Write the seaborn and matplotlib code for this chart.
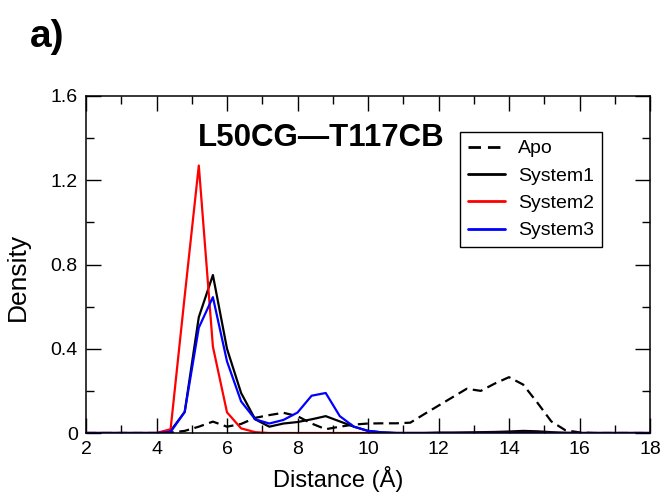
import numpy as np
import pandas as pd
import seaborn as sns
import matplotlib.pyplot as plt
from matplotlib import ticker

sns.set_theme(style="ticks")
plt.rcParams['font.family'] = ['Liberation Sans', 'DejaVu Sans']
plt.rcParams['text.color'] = 'black'
plt.rcParams['axes.labelcolor'] = 'black'
plt.rcParams['xtick.color'] = 'black'
plt.rcParams['ytick.color'] = 'black'

# distance bins (A)
distance = [2.0, 2.4, 2.8, 3.2, 3.6, 4.0, 4.4, 4.8, 5.2, 5.6, 6.0, 6.4, 6.8, 7.2, 7.6, 8.0,
            8.4, 8.8, 9.2, 9.6, 10.0, 10.4, 10.8, 11.2, 11.6, 12.0, 12.4, 12.8, 13.2, 13.6,
            14.0, 14.4, 14.8, 15.2, 15.6, 16.0, 16.4, 16.8, 17.2, 17.6, 18.0]

apo = [0, 0, 0, 0, 0, 0, 0.002, 0.01, 0.03, 0.054, 0.03, 0.043, 0.072, 0.085, 0.096, 0.08,
       0.045, 0.018, 0.03, 0.04, 0.045, 0.046, 0.046, 0.049, 0.09, 0.13, 0.17, 0.21, 0.20, 0.235,
       0.265, 0.23, 0.145, 0.055, 0.013, 0.003, 0, 0, 0, 0, 0]
system1 = [0, 0, 0, 0, 0, 0, 0.01, 0.10, 0.55, 0.75, 0.40, 0.19, 0.065, 0.03, 0.045, 0.052,
           0.065, 0.08, 0.055, 0.03, 0.01, 0.003, 0, 0, 0, 0.002, 0.002, 0.003, 0.004, 0.005,
           0.007, 0.01, 0.008, 0.004, 0.001, 0, 0, 0, 0, 0, 0]
system2 = [0, 0, 0, 0, 0, 0, 0.018, 0.65, 1.27, 0.41, 0.098, 0.022, 0.004, 0, 0, 0,
           0, 0, 0, 0, 0, 0, 0, 0, 0, 0, 0, 0, 0, 0,
           0, 0, 0, 0, 0, 0, 0, 0, 0, 0, 0]
system3 = [0, 0, 0, 0, 0, 0, 0.005, 0.10, 0.50, 0.645, 0.34, 0.15, 0.065, 0.045, 0.062, 0.097,
           0.177, 0.19, 0.08, 0.03, 0.01, 0.003, 0, 0, 0, 0, 0, 0, 0, 0,
           0, 0, 0, 0, 0, 0, 0, 0, 0, 0, 0]

series = {"Apo": apo, "System1": system1, "System2": system2, "System3": system3}
colors = {"Apo": "black", "System1": "black", "System2": "#ff0000", "System3": "#0000ff"}
dashes = {"Apo": (4.5, 2.5), "System1": "", "System2": "", "System3": ""}

df = pd.concat([pd.DataFrame({"Distance": distance, "Density": v, "system": k})
                for k, v in series.items()], ignore_index=True)

fig = plt.figure(figsize=(6.63, 4.96), dpi=100)
ax = fig.add_axes([86 / 663, 1 - 433 / 496, 564 / 663, 337 / 496])

sns.lineplot(data=df, x="Distance", y="Density", hue="system", style="system",
             palette=colors, dashes=dashes, linewidth=1.6, ax=ax, legend=True)

ax.set_xlim(2, 18)
ax.set_ylim(0, 1.6)
ax.xaxis.set_major_locator(ticker.MultipleLocator(2))
ax.xaxis.set_minor_locator(ticker.MultipleLocator(1))
ax.yaxis.set_major_locator(ticker.MultipleLocator(0.4))
ax.yaxis.set_minor_locator(ticker.MultipleLocator(0.2))
ax.yaxis.set_major_formatter(ticker.FuncFormatter(lambda v, pos: '0' if v == 0 else f'{v:.1f}'))
ax.tick_params(which='both', direction='in', top=True, right=True, colors='black',
               labelsize=14, width=1.0)
ax.tick_params(which='major', length=11, pad=6)
ax.tick_params(which='minor', length=6)
for s in ax.spines.values():
    s.set_linewidth(1.1)
    s.set_color('black')

ax.set_xlabel("Distance (Å)", fontsize=17)
ax.set_ylabel("Density", fontsize=19)
ax.xaxis.set_label_coords(0.447, -0.098)
ax.yaxis.set_label_coords(-0.10, 0.463)

ax.text(0.199, 0.875, "L50CG\u2014T117CB", transform=ax.transAxes, fontsize=22.5,
        fontweight='bold', ha='left', va='center')

leg = ax.legend(loc='upper left', bbox_to_anchor=(0.663, 0.893), borderaxespad=0,
                fontsize=14, frameon=True, fancybox=False, edgecolor='black',
                handlelength=1.9, handletextpad=0.7, labelspacing=0.5, borderpad=0.4)
leg.get_frame().set_linewidth(1.0)
leg.get_frame().set_alpha(1)
for h in leg.get_lines():
    h.set_linewidth(2.0)

fig.text(0.045, 0.925, "a)", fontsize=28, fontweight='bold', ha='left', va='center')

plt.savefig("out.png", dpi=100)
